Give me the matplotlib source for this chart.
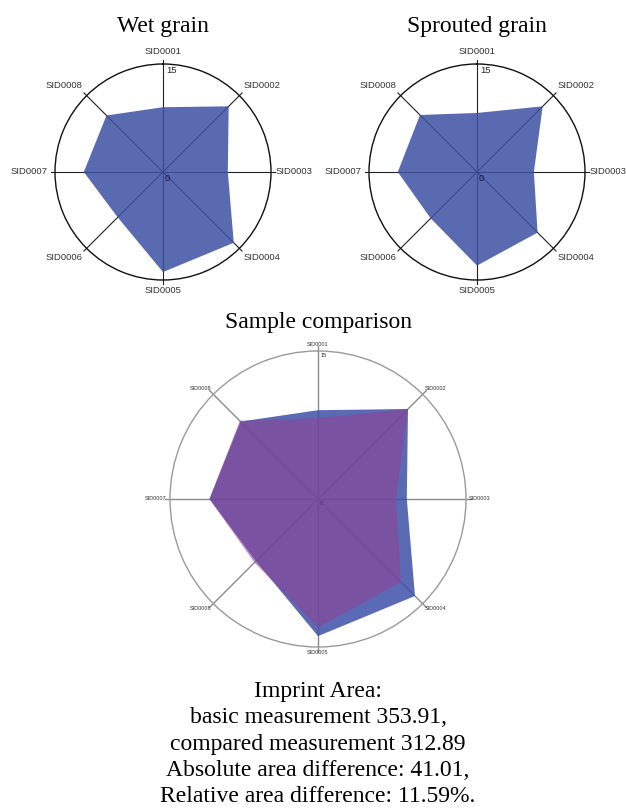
#!/usr/bin/env python3
import numpy as np
import matplotlib.pyplot as plt

sids = ['SID0001', 'SID0002', 'SID0003', 'SID0004',
        'SID0005', 'SID0006', 'SID0007', 'SID0008']
wet_grain      = [9.0, 12.9, 9.0, 13.9, 13.9, 8.9, 11.0, 11.1]
sprouted_grain = [8.2, 12.9, 7.9, 11.9, 13.0, 9.1, 11.0, 11.2]
r_max = 15
summary = ['Imprint Area:',
           'basic measurement 353.91,',
           'compared measurement 312.89',
           'Absolute area difference: 41.01,',
           'Relative area difference: 11.59%.']

W, H = 626, 809
SERIF = ['Liberation Serif', 'DejaVu Serif']
SANS = ['Liberation Sans', 'DejaVu Sans']

# label placement per spoke: (ha, va, dx, dy) in pixels
LABEL_POS = [('center', 'bottom', 0, 8), ('left', 'bottom', 4, 6),
             ('left', 'center', 5, 0), ('left', 'top', 4, -5),
             ('center', 'top', 0, -6), ('right', 'top', -4, -5),
             ('right', 'center', -7, 0), ('right', 'bottom', -4, 6)]


def px_axes(fig, cx, cy, r):
    return fig.add_axes([(cx - r) / W, 1 - (cy + r) / H, 2 * r / W, 2 * r / H],
                        projection='polar')


def radar(ax, series, spoke_color, circle_color, label_size, off_scale=1.0,
          spoke_lw=0.8, zero_color='#1a1a3a'):
    theta = np.deg2rad(np.arange(len(sids)) * 360 / len(sids))
    ax.set_theta_zero_location('N')
    ax.set_theta_direction(-1)
    ax.set_ylim(0, r_max)
    ax.set_xticks([]); ax.set_yticks([])
    ax.grid(False)
    ax.spines['polar'].set_color(circle_color)
    ax.spines['polar'].set_linewidth(1.0)
    for t in theta:
        ax.plot([t, t], [0, r_max * 1.035], color=spoke_color, lw=spoke_lw,
                clip_on=False, zorder=1)
    ax.annotate(str(r_max), xy=(0, r_max), xytext=(3, -2), textcoords='offset pixels',
                ha='left', va='top', fontsize=label_size, family=SANS,
                color='#222222', annotation_clip=False, zorder=1)
    ##
    for vals, color, alpha in series:
        t = np.append(theta, theta[0])
        v = np.append(vals, vals[0])
        ax.fill(t, v, color=color, alpha=alpha, lw=0, zorder=2)
    ax.annotate('0', xy=(0, 0), xytext=(2, -2), textcoords='offset pixels',
                ha='left', va='top', fontsize=label_size, family=SANS,
                color=zero_color, zorder=3)
    ##
    for t, name, (ha, va, dx, dy) in zip(theta, sids, LABEL_POS):
        ax.annotate(name, xy=(t, r_max), xytext=(dx * off_scale, dy * off_scale),
                    textcoords='offset pixels', ha=ha, va=va, fontsize=label_size,
                    family=SANS, color='#333333', annotation_clip=False)


fig = plt.figure(figsize=(W / 100, H / 100), dpi=100)

ax1 = px_axes(fig, 163, 172, 108)
radar(ax1, [(wet_grain, '#3d50a2', 0.85)], '#222222', '#111111', 6.8)
ax2 = px_axes(fig, 477, 172, 108)
radar(ax2, [(sprouted_grain, '#3d50a2', 0.85)], '#222222', '#111111', 6.8)
ax3 = px_axes(fig, 318, 499, 148)
radar(ax3, [(wet_grain, '#3d50a8', 0.85), (sprouted_grain, '#8f4296', 0.6)],
      '#8a8a8a', '#9a9a9a', 4.0, off_scale=0.5, spoke_lw=1.0, zero_color='#5a2a80')

fig.text(163 / W, 1 - 32 / H, 'Wet grain', ha='center', va='baseline',
         fontsize=17, family=SERIF)
fig.text(477 / W, 1 - 32 / H, 'Sprouted grain', ha='center', va='baseline',
         fontsize=17, family=SERIF)
fig.text(318 / W, 1 - 328 / H, 'Sample comparison', ha='center', va='baseline',
         fontsize=17, family=SERIF)

for i, line in enumerate(summary):
    fig.text(318 / W, 1 - (697 + i * 26.3) / H, line, ha='center', va='baseline',
             fontsize=17, family=SERIF)

fig.savefig('out.png', dpi=100)
